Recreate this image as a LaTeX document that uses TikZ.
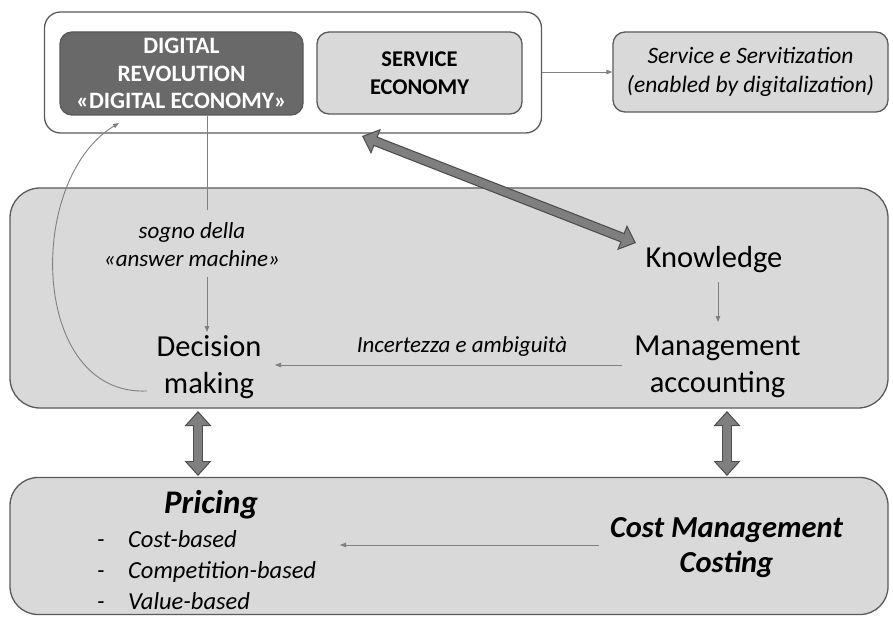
\documentclass[tikz,border=0pt]{standalone}
\usepackage{fontspec}
\setmainfont{Carlito}
\usetikzlibrary{arrows.meta}
\definecolor{edge}{HTML}{5A5A5A}
\definecolor{panel}{HTML}{D9D9D9}
\definecolor{darkpanel}{HTML}{696969}
\definecolor{thin}{HTML}{808080}
\definecolor{bigfill}{HTML}{7F7F7F}
\definecolor{bigedge}{HTML}{4D4D4D}
\tikzset{
  box/.style={draw=edge, line width=1.3pt, rounded corners=#1, inner sep=0pt},
  box/.default=14pt,
  thinarrow/.style={draw=thin, line width=0.9pt, -{Triangle[length=6pt,width=4.5pt]}},
  thinline/.style={draw=thin, line width=0.9pt},
  bigout/.style={draw=bigedge, line width=10pt, {Triangle[length=15pt,width=26pt]}-{Triangle[length=15pt,width=26pt]}},
  bigin/.style={draw=bigfill, line width=7.6pt, shorten >=1.8pt, shorten <=1.8pt, {Triangle[length=12pt,width=21pt]}-{Triangle[length=12pt,width=21pt]}},
  label/.style={inner sep=0pt, align=center},
  bigtext/.style={label, font=\fontsize{30.5}{37}\selectfont},
}
\newcommand{\itemdash}{\makebox[31pt][l]{-}}
\begin{document}
\begin{tikzpicture}[x=1pt,y=-1pt]
\useasboundingbox (0,0) rectangle (893,617);

% --- top group ---
\node[box=16pt, fill=white, minimum width=497pt, minimum height=121pt] (group) at (293,72.5) {};
\node[box=12pt, fill=darkpanel, minimum width=243pt, minimum height=83pt,
      text=white, align=center, font=\fontsize{23.5}{27.5}\selectfont\bfseries] (digital) at (181.5,73.5)
      {DIGITAL\\REVOLUTION\\«DIGITAL ECONOMY»};
\node[box=12pt, fill=panel, minimum width=205pt, minimum height=82pt,
      align=center, font=\fontsize{22.5}{28}\selectfont\bfseries] (service) at (419.5,73)
      {SERVICE\\ECONOMY};
\node[box=12pt, fill=panel, minimum width=275pt, minimum height=80pt,
      align=center, font=\fontsize{23.5}{29}\selectfont\itshape] (servit) at (750.5,72)
      {Service e Servitization\\(enabled by digitalization)};
\draw[thinarrow] (group.east |- servit.west) -- (servit.west);

% --- middle panel ---
\node[box=30pt, fill=panel, minimum width=878pt, minimum height=220pt] (mid) at (449,298) {};
\node[label, font=\fontsize{23}{28}\selectfont\itshape] (dream) at (192,245)
      {sogno della\\«answer machine»};
\node[bigtext] (decision) at (209,367) {Decision\\making};
\node[bigtext] (knowledge) at (714,260) {Knowledge};
\node[bigtext] (mgmt) at (717.5,367) {Management\\accounting};
\node[label, font=\fontsize{23}{28}\selectfont\itshape] (uncert) at (462,346)
      {Incertezza e ambiguità};

\coordinate (dreamin) at (207,210);
\coordinate (dreamout) at (207,277);
\coordinate (decisiontop) at (207,332);
\draw[thinline] (digital.south -| dreamin) -- (dreamin);
\draw[thinarrow] (dreamout) -- (decisiontop);
\coordinate (kout) at (718,282);
\coordinate (mgmttop) at (718,322);
\draw[thinarrow] (kout) -- (mgmttop);
\coordinate (mgmtin) at (622,365);
\coordinate (decin) at (275,365);
\draw[thinarrow] (mgmtin) -- (decin);

% feedback curve from decision making back to the digital revolution
\coordinate (loopstart) at (147,391);
\coordinate (loopend) at (119,123);
\draw[thinarrow] (loopstart) .. controls (30,396) and (25,180) .. (loopend);

% --- bottom panel ---
\node[box=28pt, fill=panel, minimum width=878pt, minimum height=137pt] (bot) at (449,546) {};
\node[label, anchor=base, font=\fontsize{33}{36}\selectfont\bfseries\itshape] (pricing) at (211,513) {Pricing};
\node[label, anchor=north west, font=\fontsize{24.5}{31}\selectfont\itshape, align=left] (types) at (97,530)
      {\itemdash Cost-based\\\itemdash Competition-based\\\itemdash Value-based};
\node[label, font=\fontsize{30.5}{35}\selectfont\bfseries\itshape] (costmgmt) at (726.5,548)
      {Cost Management\\Costing};
\coordinate (cmout) at (599,545);
\coordinate (prin) at (340,545);
\draw[thinarrow] (cmout) -- (prin);

% --- thick two-way links ---
\coordinate (linkA) at (362,136);
\coordinate (linkB) at (636,243);
\coordinate (dmtop) at (198,411);
\coordinate (prtop) at (198,476);
\coordinate (matop) at (727,411);
\coordinate (cmtop) at (727,476);
\foreach \a/\b in {linkA/linkB, dmtop/prtop, matop/cmtop}{
  \draw[bigout] (\a) -- (\b);
  \draw[bigin] (\a) -- (\b);
}
\end{tikzpicture}
\end{document}
